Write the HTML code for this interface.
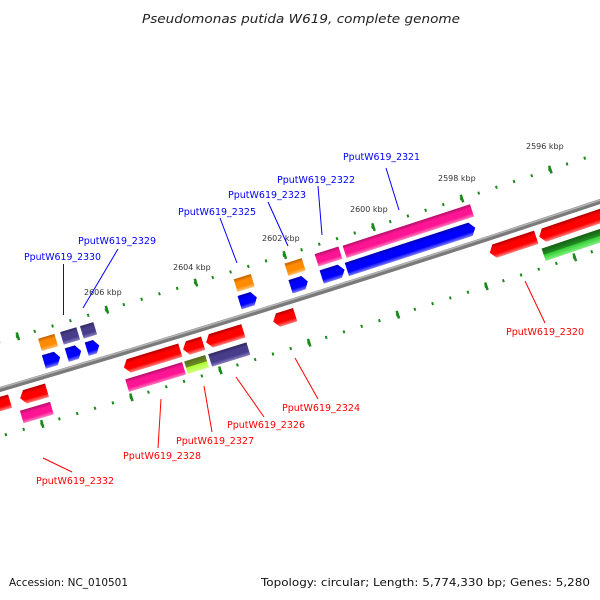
<!DOCTYPE html>
<html><head><meta charset="utf-8"><style>html,body{margin:0;padding:0;background:#fff}svg{display:block}</style></head><body>
<svg width="600" height="600" viewBox="0 0 600 600" xmlns="http://www.w3.org/2000/svg">
<defs>
<linearGradient id="gR" x1="0" y1="0" x2="0" y2="1"><stop offset="0" stop-color="#b00000"/><stop offset="0.3" stop-color="#ff0000"/><stop offset="0.7" stop-color="#ff0000"/><stop offset="1" stop-color="#ff8080"/></linearGradient>
<linearGradient id="gB" x1="0" y1="0" x2="0" y2="1"><stop offset="0" stop-color="#0000b0"/><stop offset="0.3" stop-color="#0000ff"/><stop offset="0.7" stop-color="#0000ff"/><stop offset="1" stop-color="#8080ff"/></linearGradient>
<linearGradient id="gM" x1="0" y1="0" x2="0" y2="1"><stop offset="0" stop-color="#b0106a"/><stop offset="0.3" stop-color="#ff1493"/><stop offset="0.7" stop-color="#ff1493"/><stop offset="1" stop-color="#ff80c0"/></linearGradient>
<linearGradient id="gO" x1="0" y1="0" x2="0" y2="1"><stop offset="0" stop-color="#c06000"/><stop offset="0.3" stop-color="#ff8c00"/><stop offset="0.7" stop-color="#ff8c00"/><stop offset="1" stop-color="#ffc070"/></linearGradient>
<linearGradient id="gP" x1="0" y1="0" x2="0" y2="1"><stop offset="0" stop-color="#30285e"/><stop offset="0.3" stop-color="#483d8b"/><stop offset="0.7" stop-color="#483d8b"/><stop offset="1" stop-color="#8a80c0"/></linearGradient>
<linearGradient id="gY" x1="0" y1="0" x2="0" y2="1"><stop offset="0" stop-color="#556b1f"/><stop offset="0.48" stop-color="#6b8e23"/><stop offset="0.52" stop-color="#adff2f"/><stop offset="1" stop-color="#d0ff80"/></linearGradient>
<linearGradient id="gG" x1="0" y1="0" x2="0" y2="1"><stop offset="0" stop-color="#156015"/><stop offset="0.48" stop-color="#228b22"/><stop offset="0.52" stop-color="#32cd32"/><stop offset="1" stop-color="#80f080"/></linearGradient>
</defs>

<text x="142" y="23" font-family="DejaVu Sans, Liberation Sans, sans-serif" font-style="italic" font-size="12" fill="#222" textLength="318" lengthAdjust="spacingAndGlyphs">Pseudomonas putida W619, complete genome</text>

<!-- tick rows -->
<path d="M-112.7,374.3 Q286.2,259.9 685.2,124.3" fill="none" stroke="#1a8a1a" stroke-width="3" stroke-dasharray="2 16.6" stroke-dashoffset="14.8"/>
<path d="M-112.7,374.3 Q286.2,259.9 685.2,124.3" fill="none" stroke="#1a8a1a" stroke-width="8" stroke-dasharray="2.5 90.5" stroke-dashoffset="51.25"/>
<path d="M-87.6,461.7 Q313.5,346.7 714.5,210.5" fill="none" stroke="#1a8a1a" stroke-width="3" stroke-dasharray="2 16.6" stroke-dashoffset="15.3"/>
<path d="M-87.6,461.7 Q313.5,346.7 714.5,210.5" fill="none" stroke="#1a8a1a" stroke-width="8" stroke-dasharray="2.5 90.5" stroke-dashoffset="52"/>

<!-- backbone -->
<path d="M-100,418.5 Q300,303.8 700,167.9" fill="none" stroke="#7a7a7a" stroke-width="5"/>
<path d="M-100,417 Q300,302.3 700,166.4" fill="none" stroke="#b4b4b4" stroke-width="1.5"/>

<!-- below row 1 (red, left arrows) -->
<g transform="translate(-5.4,391.1) rotate(-16.33)"><polygon points="-12,7 12,7 12,21 -12,21" fill="url(#gR)"/></g>
<g transform="translate(29.6,380.8) rotate(-16.47)"><polygon points="-14,14 -9,7 14,7 14,21 -9,21" fill="url(#gR)"/></g>
<g transform="translate(148,345.4) rotate(-16.95)"><polygon points="-29.5,14 -24.5,7 29.5,7 29.5,21 -24.5,21" fill="url(#gR)"/></g>
<g transform="translate(189,332.9) rotate(-17.12)"><polygon points="-10.5,14 -5.5,7 10.5,7 10.5,21 -5.5,21" fill="url(#gR)"/></g>
<g transform="translate(220.6,323.2) rotate(-17.24)"><polygon points="-19.5,14 -14.5,7 19.5,7 19.5,21 -14.5,21" fill="url(#gR)"/></g>
<g transform="translate(280,304.8) rotate(-17.48)"><polygon points="-11.5,14 -6.5,7 11.5,7 11.5,21 -6.5,21" fill="url(#gR)"/></g>
<g transform="translate(508.6,231.7) rotate(-18.41)"><polygon points="-24.5,14 -19.5,7 24.5,7 24.5,21 -19.5,21" fill="url(#gR)"/></g>
<g transform="translate(584,206.8) rotate(-18.72)"><polygon points="-52,14 -47,7 52,7 52,21 -47,21" fill="url(#gR)"/></g>

<!-- below row 2 -->
<g transform="translate(27.6,381.4) rotate(-16.46)"><rect x="-15.75" y="26" width="31.5" height="13" fill="url(#gM)"/></g>
<g transform="translate(146.1,345.9) rotate(-16.94)"><rect x="-29.75" y="26" width="59.5" height="13" fill="url(#gM)"/></g>
<g transform="translate(187,333.4) rotate(-17.11)"><rect x="-11" y="26" width="22" height="13" fill="url(#gY)"/></g>
<g transform="translate(219.6,323.5) rotate(-17.24)"><rect x="-20" y="26" width="40" height="13" fill="url(#gP)"/></g>
<g transform="translate(580.6,208) rotate(-18.7)"><rect x="-50" y="26" width="100" height="13" fill="url(#gG)"/></g>

<!-- above row 1 (blue, right arrows) -->
<g transform="translate(56,373) rotate(-16.58)"><polygon points="-8.5,-21 4,-21 8.5,-14 4,-7 -8.5,-7" fill="url(#gB)"/></g>
<g transform="translate(78,366.4) rotate(-16.67)"><polygon points="-7.5,-21 3,-21 7.5,-14 3,-7 -7.5,-7" fill="url(#gB)"/></g>
<g transform="translate(97,360.7) rotate(-16.74)"><polygon points="-6.5,-21 2,-21 6.5,-14 2,-7 -6.5,-7" fill="url(#gB)"/></g>
<g transform="translate(252.4,313.4) rotate(-17.37)"><polygon points="-9,-21 4.5,-21 9,-14 4.5,-7 -9,-7" fill="url(#gB)"/></g>
<g transform="translate(303.4,297.4) rotate(-17.58)"><polygon points="-9,-21 4.5,-21 9,-14 4.5,-7 -9,-7" fill="url(#gB)"/></g>
<g transform="translate(337.4,286.7) rotate(-17.72)"><polygon points="-12,-21 7,-21 12,-14 7,-7 -12,-7" fill="url(#gB)"/></g>
<g transform="translate(415.4,261.9) rotate(-18.03)"><polygon points="-67.5,-21 62.5,-21 67.5,-14 62.5,-7 -67.5,-7" fill="url(#gB)"/></g>

<!-- above row 2 -->
<g transform="translate(57.1,372.7) rotate(-16.58)"><rect x="-8.5" y="-38" width="17" height="13" fill="url(#gO)"/></g>
<g transform="translate(79.1,366.1) rotate(-16.67)"><rect x="-8.5" y="-38" width="17" height="13" fill="url(#gP)"/></g>
<g transform="translate(97.6,360.5) rotate(-16.75)"><rect x="-7" y="-38" width="14" height="13" fill="url(#gP)"/></g>
<g transform="translate(253.6,313) rotate(-17.38)"><rect x="-9" y="-38" width="18" height="13" fill="url(#gO)"/></g>
<g transform="translate(304.6,297.1) rotate(-17.58)"><rect x="-9" y="-38" width="18" height="13" fill="url(#gO)"/></g>
<g transform="translate(338.1,286.5) rotate(-17.72)"><rect x="-12.5" y="-38" width="25" height="13" fill="url(#gM)"/></g>
<g transform="translate(418.1,261.1) rotate(-18.04)"><rect x="-67" y="-38" width="134" height="13" fill="url(#gM)"/></g>

<!-- tick labels -->
<g font-family="DejaVu Sans, Liberation Sans, sans-serif" font-size="8" fill="#333">
<text x="84" y="295">2606 kbp</text>
<text x="173" y="270">2604 kbp</text>
<text x="262" y="241">2602 kbp</text>
<text x="350" y="212">2600 kbp</text>
<text x="438" y="181">2598 kbp</text>
<text x="526" y="149">2596 kbp</text>
</g>

<!-- label connectors -->
<g stroke-width="1" fill="none">
<line x1="386" y1="168" x2="399" y2="210" stroke="#0000ff"/>
<line x1="318" y1="186" x2="322" y2="235" stroke="#0000ff"/>
<line x1="268" y1="202" x2="288" y2="246" stroke="#0000ff"/>
<line x1="220" y1="218" x2="237" y2="263" stroke="#0000ff"/>
<line x1="118" y1="249" x2="83" y2="308" stroke="#0000ff"/>
<line x1="63.5" y1="264" x2="63.5" y2="315" stroke="#0000ff"/>
<line x1="525" y1="281" x2="545" y2="323" stroke="#ff0000"/>
<line x1="295" y1="358" x2="318" y2="399" stroke="#ff0000"/>
<line x1="236" y1="377" x2="264" y2="417" stroke="#ff0000"/>
<line x1="204" y1="386" x2="212" y2="432" stroke="#ff0000"/>
<line x1="161" y1="399" x2="158" y2="448" stroke="#ff0000"/>
<line x1="43" y1="458" x2="72" y2="472" stroke="#ff0000"/>
</g>

<g font-family="DejaVu Sans, Liberation Sans, sans-serif" font-size="10">
<g fill="#0000ff">
<text x="343" y="160" textLength="77" lengthAdjust="spacingAndGlyphs">PputW619_2321</text>
<text x="277" y="183" textLength="78" lengthAdjust="spacingAndGlyphs">PputW619_2322</text>
<text x="228" y="198" textLength="78" lengthAdjust="spacingAndGlyphs">PputW619_2323</text>
<text x="178" y="215" textLength="78" lengthAdjust="spacingAndGlyphs">PputW619_2325</text>
<text x="78" y="244" textLength="78" lengthAdjust="spacingAndGlyphs">PputW619_2329</text>
<text x="24" y="260" textLength="77" lengthAdjust="spacingAndGlyphs">PputW619_2330</text>
</g>
<g fill="#ff0000">
<text x="506" y="335" textLength="78" lengthAdjust="spacingAndGlyphs">PputW619_2320</text>
<text x="282" y="411" textLength="78" lengthAdjust="spacingAndGlyphs">PputW619_2324</text>
<text x="227" y="428" textLength="78" lengthAdjust="spacingAndGlyphs">PputW619_2326</text>
<text x="176" y="444" textLength="78" lengthAdjust="spacingAndGlyphs">PputW619_2327</text>
<text x="123" y="459" textLength="78" lengthAdjust="spacingAndGlyphs">PputW619_2328</text>
<text x="36" y="484" textLength="78" lengthAdjust="spacingAndGlyphs">PputW619_2332</text>
</g>
</g>

<g font-family="DejaVu Sans, Liberation Sans, sans-serif" font-size="11" fill="#111">
<text x="9" y="586" textLength="119" lengthAdjust="spacingAndGlyphs">Accession: NC_010501</text>
<text x="261" y="586" textLength="329" lengthAdjust="spacingAndGlyphs">Topology: circular; Length: 5,774,330 bp; Genes: 5,280</text>
</g>
</svg>
</body></html>
